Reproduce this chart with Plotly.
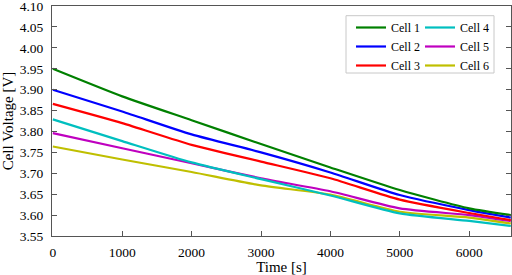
import plotly.graph_objects as go

time_s = [0, 1000, 2000, 3000, 4000, 5000, 6000, 6600]
cell1 = [3.950, 3.884, 3.827, 3.770, 3.714, 3.660, 3.616, 3.600]
cell2 = [3.900, 3.848, 3.793, 3.750, 3.702, 3.648, 3.612, 3.594]
cell3 = [3.866, 3.820, 3.768, 3.728, 3.688, 3.637, 3.605, 3.588]
cell4 = [3.829, 3.777, 3.726, 3.686, 3.647, 3.604, 3.586, 3.574]
cell5 = [3.796, 3.760, 3.724, 3.688, 3.657, 3.616, 3.600, 3.586]
cell6 = [3.764, 3.733, 3.703, 3.671, 3.649, 3.608, 3.594, 3.580]

names = ["Cell 1", "Cell 2", "Cell 3", "Cell 4", "Cell 5", "Cell 6"]
series = [cell1, cell2, cell3, cell4, cell5, cell6]
colors = ["#008000", "#0000ff", "#ff0000", "#00bfbf", "#bf00bf", "#bfbf00"]
legends = ["legend", "legend", "legend", "legend2", "legend2", "legend2"]

y_ticks = [3.55, 3.60, 3.65, 3.70, 3.75, 3.80, 3.85, 3.90, 3.95, 4.00, 4.05, 4.10]
x_ticks = [0, 1000, 2000, 3000, 4000, 5000, 6000]

FONT = "Liberation Serif"

fig = go.Figure()
for name, vals, col, lg in reversed(list(zip(names, series, colors, legends))):
    fig.add_trace(go.Scatter(x=time_s, y=vals, mode="lines", name=name,
                             line=dict(color=col, width=2.2, shape="spline", smoothing=0.6),
                             legend=lg))

L, R, T, B = 52, 1, 6, 39
W, H = 512, 275
pw, ph = W - L - R, H - T - B

def px_x(p):
    return (p - L) / pw

def px_y(p):
    return (H - B - p) / ph

fig.update_layout(
    width=W, height=H,
    margin=dict(l=L, r=R, t=T, b=B, autoexpand=False),
    paper_bgcolor="white", plot_bgcolor="white",
    font=dict(family=FONT, size=13, color="black"),
    showlegend=True,
    legend=dict(x=px_x(351), y=px_y(13), xanchor="left", yanchor="top",
                bgcolor="rgba(0,0,0,0)", font=dict(size=12, family=FONT),
                traceorder="reversed", itemwidth=30),
    legend2=dict(x=px_x(420), y=px_y(13), xanchor="left", yanchor="top",
                 bgcolor="rgba(0,0,0,0)", font=dict(size=12, family=FONT),
                 traceorder="reversed", itemwidth=30),
    shapes=[dict(type="rect", xref="paper", yref="paper",
                 x0=px_x(346), x1=px_x(494), y0=px_y(73), y1=px_y(15.7),
                 line=dict(color="#c8c8c8", width=1), fillcolor="white",
                 layer="above")],
    xaxis=dict(range=[-12, 6603], tickvals=x_ticks, ticks="inside", ticklen=5,
               tickcolor="#555", showline=True, linecolor="#555", linewidth=1,
               mirror=True, showgrid=False, zeroline=False, automargin=False,
               ticklabelstandoff=4, ticklabeloverflow="allow",
               title=dict(text="Time [s]", font=dict(size=15, family=FONT), standoff=0),
               tickfont=dict(size=13.5, family=FONT)),
    yaxis=dict(range=[3.55, 4.1002], tickvals=y_ticks, tickformat=".2f",
               ticks="inside", ticklen=5, tickcolor="#555",
               showline=True, linecolor="#555", linewidth=1, mirror="ticks",
               showgrid=False, zeroline=False, automargin=False,
               ticklabelstandoff=5, ticklabeloverflow="allow",
               title=dict(text="Cell Voltage [V]", font=dict(size=15, family=FONT), standoff=2),
               tickfont=dict(size=13.5, family=FONT)),
)

fig.write_html("out.html", config={"displayModeBar": False},
               post_script="document.body.style.margin='0';document.body.style.overflow='hidden';")
